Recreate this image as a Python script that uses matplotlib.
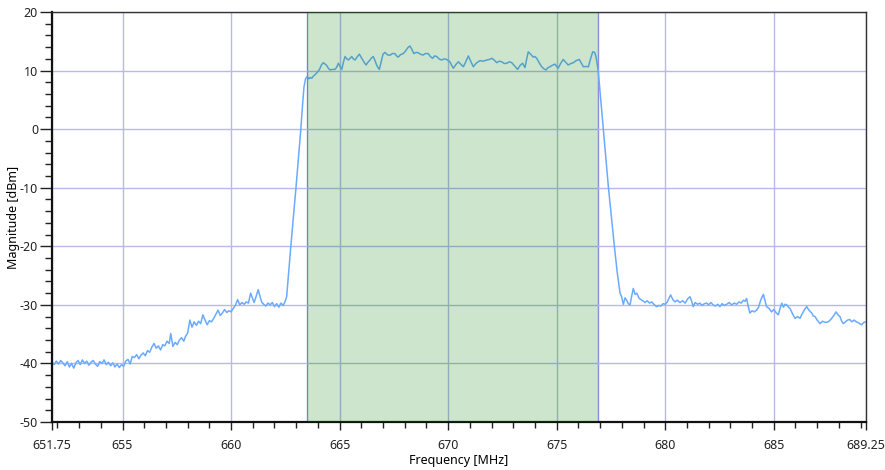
import numpy as np
import matplotlib
matplotlib.use('Agg')
import matplotlib.pyplot as plt

plt.rcParams['font.family'] = ['Noto Sans', 'DejaVu Sans']
plt.rcParams['axes.unicode_minus'] = False

# lower skirt / noise floor on the left
freq_left = [651.75, 651.85, 651.95, 652.05, 652.15, 652.25, 652.35, 652.45, 652.55, 652.65,
             652.75, 652.85, 652.95, 653.05, 653.15, 653.25, 653.35, 653.45, 653.55, 653.65,
             653.75, 653.85, 653.95, 654.05, 654.15, 654.25, 654.35, 654.45, 654.55, 654.65,
             654.75, 654.85, 654.95, 655.05, 655.15, 655.25, 655.35, 655.45, 655.55, 655.65,
             655.75, 655.85, 655.95, 656.05, 656.15, 656.25, 656.35, 656.45, 656.55, 656.65,
             656.75, 656.85, 656.95, 657.05, 657.15, 657.22, 657.32, 657.42, 657.52, 657.62,
             657.72, 657.82, 657.9, 658.0, 658.1, 658.2, 658.3, 658.4, 658.5, 658.6,
             658.7, 658.8, 658.9, 659.0, 659.1, 659.2, 659.3, 659.4, 659.5, 659.6,
             659.7, 659.8, 659.9, 660.0, 660.1, 660.2, 660.3, 660.4, 660.5, 660.6,
             660.7, 660.8, 660.9, 661.0, 661.06, 661.15, 661.25, 661.35, 661.42, 661.5,
             661.6, 661.7, 661.8, 661.9, 662.0, 662.1, 662.2, 662.3, 662.4, 662.48, 662.56]
mag_left = [-39.8, -40.2, -39.6, -40.1, -39.5, -39.9, -40.4, -39.7, -40.6, -40.0,
            -40.8, -39.9, -39.5, -40.2, -39.4, -40.0, -39.6, -40.3, -39.8, -39.5,
            -40.1, -40.5, -39.7, -40.0, -39.4, -40.2, -39.8, -40.4, -39.9, -40.6,
            -40.1, -40.7, -40.2, -40.5, -39.6, -39.3, -40.1, -38.8, -39.0, -38.5,
            -39.2, -38.6, -38.2, -38.7, -37.8, -38.1, -37.2, -36.6, -37.4, -37.0,
            -37.7, -36.8, -37.0, -36.2, -36.6, -34.9, -37.1, -36.4, -36.8, -36.0,
            -35.6, -36.2, -35.4, -34.8, -32.6, -33.8, -32.9, -33.5, -32.8, -33.2,
            -31.7, -32.6, -33.4, -32.7, -32.9, -32.3, -31.6, -30.9, -31.8, -31.4,
            -30.8, -31.3, -31.0, -31.2, -30.6, -30.1, -29.1, -30.0, -29.6, -29.9,
            -29.5, -29.7, -28.0, -29.0, -29.6, -28.6, -27.4, -28.8, -29.6, -29.9,
            -30.2, -29.7, -30.0, -29.6, -30.3, -29.8, -30.4, -29.7, -30.1, -29.5, -28.6]

# rising edge
freq_rise = [662.65, 662.75, 662.87, 662.99, 663.1, 663.21, 663.3, 663.36, 663.43, 663.5]
mag_rise = [-24.5, -20.1, -15.0, -10.0, -5.0, -0.15, 4.5, 7.25, 8.6, 9.0]

# channel in-band
freq_band = [663.58, 663.64, 663.72, 663.8, 663.87, 663.97, 664.07, 664.17, 664.25, 664.33,
             664.4, 664.48, 664.56, 664.67, 664.79, 664.87, 664.94, 665.02, 665.1, 665.18,
             665.25, 665.33, 665.4, 665.48, 665.56, 665.63, 665.71, 665.8, 665.91, 666.0,
             666.07, 666.15, 666.22, 666.3, 666.4, 666.48, 666.55, 666.62, 666.7, 666.77,
             666.83, 666.92, 667.0, 667.09, 667.2, 667.32, 667.42, 667.55, 667.62, 667.7,
             667.8, 667.93, 668.03, 668.14, 668.24, 668.33, 668.42, 668.52, 668.62, 668.72,
             668.85, 668.95, 669.08, 669.18, 669.28, 669.38, 669.47, 669.58, 669.7, 669.82,
             669.93, 670.0, 670.08, 670.16, 670.24, 670.35, 670.47, 670.58, 670.7, 670.8,
             670.93, 671.05, 671.16, 671.3, 671.47, 671.62, 671.78, 671.9, 672.01, 672.12,
             672.24, 672.35, 672.47, 672.58, 672.7, 672.82, 672.93, 673.06, 673.2, 673.32,
             673.43, 673.54, 673.62, 673.69, 673.8, 673.92, 674.0, 674.08, 674.2, 674.31,
             674.41, 674.51, 674.6, 674.69, 674.8, 674.92, 675.0, 675.07, 675.18, 675.3,
             675.42, 675.53, 675.65, 675.77, 675.9, 676.04, 676.13, 676.23, 676.35, 676.46,
             676.56, 676.66, 676.75, 676.81, 676.91]
mag_band = [8.6, 8.8, 8.7, 9.1, 9.3, 9.7, 10.2, 11.0, 11.35, 11.1,
            10.9, 10.4, 10.1, 10.2, 10.2, 10.6, 11.25, 10.7, 10.2, 11.5,
            12.4, 12.0, 11.8, 12.1, 12.4, 12.0, 11.8, 12.3, 12.8, 12.2,
            11.8, 11.3, 10.95, 11.4, 11.8, 12.2, 12.4, 11.8, 11.0, 10.5,
            10.2, 11.6, 12.8, 13.1, 12.7, 12.6, 12.9, 12.9, 12.5, 12.3,
            12.7, 12.9, 13.3, 13.9, 14.2, 13.6, 12.9, 13.1, 13.05, 12.8,
            12.65, 12.9, 12.9, 12.4, 12.1, 12.5, 12.4, 12.0, 11.8, 12.0,
            11.9, 11.7, 11.5, 10.9, 10.4, 11.0, 11.5, 11.1, 10.65, 11.4,
            12.5, 11.5, 10.65, 11.3, 11.7, 11.6, 11.8, 11.9, 12.1, 11.8,
            11.35, 11.6, 11.5, 11.2, 11.25, 11.5, 11.35, 10.8, 10.2, 10.9,
            11.25, 10.5, 12.0, 13.2, 12.8, 12.3, 12.4, 12.1, 11.3, 10.65,
            10.3, 10.1, 10.5, 10.65, 10.9, 11.1, 10.7, 10.4, 11.2, 11.9,
            11.4, 10.95, 11.2, 11.35, 11.7, 11.9, 11.3, 10.65, 10.7, 10.65,
            12.0, 13.2, 13.1, 12.4, 10.1]

# falling edge
freq_fall = [677.03, 677.15, 677.27, 677.38, 677.52, 677.66, 677.79, 677.92, 677.99]
mag_fall = [5.0, -0.15, -5.0, -9.8, -15.0, -20.1, -24.5, -28.0, -28.6]

# upper noise floor on the right
freq_right = [678.07, 678.15, 678.22, 678.3, 678.38, 678.45, 678.53, 678.61, 678.69, 678.8,
              678.92, 679.0, 679.07, 679.17, 679.28, 679.38, 679.5, 679.61, 679.7, 679.8,
              679.9, 680.0, 680.1, 680.18, 680.25, 680.35, 680.45, 680.55, 680.68, 680.8,
              680.92, 681.03, 681.14, 681.22, 681.29, 681.38, 681.5, 681.6, 681.7, 681.8,
              681.91, 682.0, 682.1, 682.21, 682.32, 682.42, 682.52, 682.62, 682.72, 682.83,
              682.95, 683.06, 683.18, 683.29, 683.4, 683.5, 683.6, 683.68, 683.75, 683.82,
              683.9, 684.0, 684.1, 684.21, 684.3, 684.4, 684.52, 684.6, 684.67, 684.78,
              684.9, 685.0, 685.1, 685.21, 685.3, 685.37, 685.45, 685.52, 685.6, 685.68,
              685.75, 685.86, 685.98, 686.1, 686.21, 686.3, 686.42, 686.52, 686.62, 686.75,
              686.82, 686.9, 687.0, 687.13, 687.25, 687.38, 687.51, 687.6, 687.67, 687.77,
              687.87, 687.96, 688.05, 688.12, 688.2, 688.3, 688.4, 688.5, 688.6, 688.7,
              688.81, 688.92, 689.04, 689.15, 689.25]
mag_right = [-29.9, -28.8, -29.2, -29.8, -30.0, -28.6, -27.2, -28.2, -28.0, -28.9,
             -29.2, -29.4, -29.6, -29.3, -29.7, -29.5, -30.0, -30.3, -30.1, -30.2,
             -29.8, -29.9, -29.5, -28.8, -28.3, -29.1, -29.5, -29.2, -29.6, -29.3,
             -29.7, -29.0, -28.6, -29.4, -30.3, -29.6, -29.9, -29.7, -30.1, -29.8,
             -29.7, -30.0, -29.6, -30.0, -30.2, -29.9, -30.3, -29.8, -30.1, -29.9,
             -29.6, -30.0, -29.7, -29.9, -29.5, -29.7, -29.2, -29.4, -28.9, -30.2,
             -31.4, -31.0, -31.2, -30.9, -30.4, -29.2, -28.2, -29.3, -30.3, -30.6,
             -31.2, -30.8, -31.3, -31.7, -30.5, -29.7, -30.4, -29.9, -30.0, -30.4,
             -30.6, -31.5, -32.3, -32.0, -32.3, -31.6, -30.8, -30.3, -30.9, -31.4,
             -31.9, -32.0, -32.6, -33.2, -32.8, -33.0, -32.9, -32.6, -32.3, -31.8,
             -31.2, -31.7, -32.0, -32.7, -33.2, -32.9, -32.6, -32.5, -32.9, -32.6,
             -32.9, -33.1, -33.4, -33.0, -32.9]

channel_start = 663.5
channel_stop = 676.9

x_major = [651.75, 655, 660, 665, 670, 675, 680, 685, 689.25]
x_labels = ['651.75', '655', '660', '665', '670', '675', '680', '685', '689.25']
y_major = [20, 10, 0, -10, -20, -30, -40, -50]

freq = np.array(freq_left + freq_rise + freq_band + freq_fall + freq_right)
mag = np.array(mag_left + mag_rise + mag_band + mag_fall + mag_right)

fig = plt.figure(figsize=(8.85, 4.70), dpi=100)
ax = fig.add_axes([52 / 885, 1 - 422 / 470, (866 - 52) / 885, (422 - 12) / 470])

ax.grid(True, which='major', color='#b8b8ec', linewidth=1, zorder=0)
ax.plot(freq, mag, color='#6aaaff', linewidth=1.1, zorder=2)
ax.axvline(channel_start, color='#8e8ed8', linewidth=1, zorder=1)
ax.axvline(channel_stop, color='#8e8ed8', linewidth=1, zorder=1)
ax.axvspan(channel_start, channel_stop, facecolor=(0, 0.5, 0), alpha=0.2,
           linewidth=0, zorder=3)

ax.set_xlim(651.75, 689.25)
ax.set_ylim(-50, 20)
ax.set_xticks(x_major)
ax.set_xticklabels(x_labels)
ax.set_xticks(np.arange(652, 690, 1), minor=True)
ax.set_yticks(y_major)
ax.set_yticks(np.arange(-50, 21, 2), minor=True)

ax.tick_params(axis='both', which='both', direction='out', colors='#222222',
               labelsize=9, width=1)
ax.tick_params(axis='x', which='major', length=6, pad=6)
ax.tick_params(axis='x', which='minor', length=4)
ax.tick_params(axis='y', which='major', length=9, pad=1)
ax.tick_params(axis='y', which='minor', length=5)

for side in ['left', 'bottom']:
    ax.spines[side].set_linewidth(1.6)
    ax.spines[side].set_color('#111111')
for side in ['top', 'right']:
    ax.spines[side].set_linewidth(1.0)
    ax.spines[side].set_color('#333333')

ax.set_xlabel('Frequency [MHz]', fontsize=9, labelpad=2)
ax.set_ylabel('Magnitude [dBm]', fontsize=9)
ax.yaxis.set_label_coords(-0.039, 0.5)

fig.savefig('out.png', dpi=100)
